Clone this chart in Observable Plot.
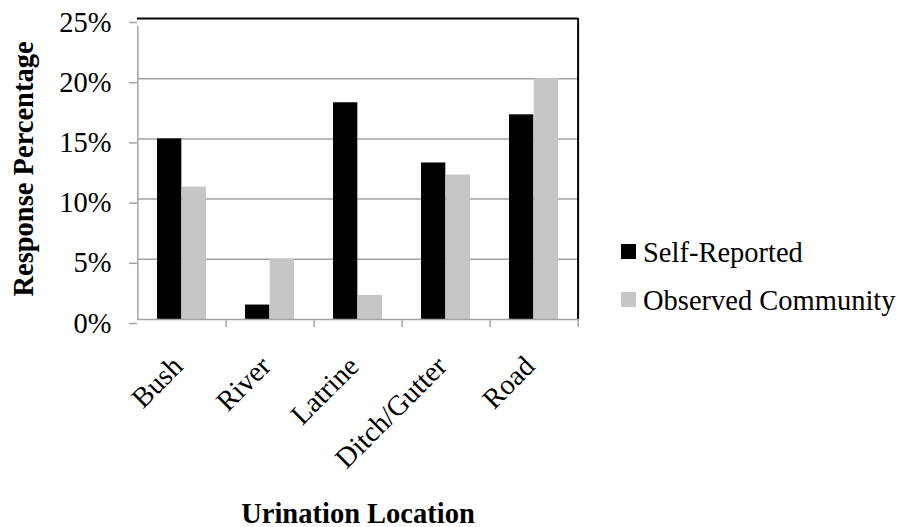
<!DOCTYPE html>
<html>
<head>
<meta charset="utf-8">
<script src="https://cdn.jsdelivr.net/npm/d3@7"></script>
<script src="https://cdn.jsdelivr.net/npm/@observablehq/plot@0.6"></script>
<style>
  body { margin: 0; background: #ffffff; }
  #chart { position: relative; width: 905px; height: 527px; font-family: "Liberation Serif", "Times New Roman", serif; }
  .swatch { position: absolute; width: 15px; height: 15px; }
  .legend-label { position: absolute; font-size: 28.5px; line-height: 28.5px; white-space: nowrap; color: #000; }
</style>
</head>
<body>
<div id="chart"></div>
<script>
// Urination location responses, as fractions
const categories = ["Bush", "River", "Latrine", "Ditch/Gutter", "Road"];
const series = ["Self-Reported", "Observed Community"];
const selfReported = [0.15, 0.012, 0.18, 0.13, 0.17];
const observedCommunity = [0.11, 0.05, 0.02, 0.12, 0.20];
const yTicks = [0, 0.05, 0.10, 0.15, 0.20, 0.25];
const seriesColors = ["#000000", "#c6c6c6"];

const rows = categories.flatMap((category, i) => [
  {category, series: series[0], value: selfReported[i]},
  {category, series: series[1], value: observedCommunity[i]}
]);

// Layout
const width = 905, height = 527;
const margin = {top: 18, right: 327, bottom: 208, left: 137};
const paddingInner = 0.44, paddingOuter = 0.22;
const step = (width - margin.left - margin.right) / categories.length; // band step (px)
const half = step * (1 - paddingInner) / 2;                            // one bar of the pair
const fontSize = 28.5;
const gridGray = "#a3a3a3";
const pct = d => `${Math.round(d * 100)}%`;

const plot = Plot.plot({
  width, height,
  marginTop: margin.top, marginRight: margin.right,
  marginBottom: margin.bottom, marginLeft: margin.left,
  style: {
    fontFamily: '"Liberation Serif", "Times New Roman", serif',
    fontSize: `${fontSize}px`,
    background: "#ffffff",
    color: "#000000",
    overflow: "visible"
  },
  x: {domain: categories, paddingInner, paddingOuter, axis: null},
  y: {domain: [0, 0.25], axis: null},
  marks: [
    // horizontal gridlines
    Plot.ruleY(yTicks.filter(t => t > 0 && t < 0.25), {stroke: gridGray, strokeWidth: 1.5}),
    // bars: self-reported on the left half, observed on the right half of each band
    Plot.barY(rows.filter(d => d.series === series[0]), {
      x: "category", y: "value", fill: seriesColors[0], insetRight: half
    }),
    Plot.barY(rows.filter(d => d.series === series[1]), {
      x: "category", y: "value", fill: seriesColors[1], insetLeft: half
    }),
    // plot border: black top and right edges
    Plot.ruleY([0.25], {stroke: "#000000", strokeWidth: 2}),
    Plot.ruleX([categories[categories.length - 1]], {dx: step / 2, stroke: "#000000", strokeWidth: 2}),
    // value axis line (grey) and category axis line
    Plot.ruleX([categories[0]], {dx: -step / 2, y1: 0, y2: 0.25, insetBottom: -8, stroke: gridGray, strokeWidth: 1.5}),
    Plot.ruleY([0], {stroke: gridGray, strokeWidth: 1.5}),
    // category boundary ticks
    Plot.ruleX(categories, {x: d => d, dx: step / 2, y1: 0, y2: 0, insetBottom: -8, stroke: gridGray, strokeWidth: 1.5}),
    // value axis
    Plot.axisY({
      ticks: yTicks, tickFormat: pct, tickSize: 8, tickPadding: 18,
      stroke: gridGray, strokeWidth: 1.5, fill: "#000000", dy: 4, label: null, fontSize
    }),
    // rotated category labels
    Plot.text(categories, {
      x: d => d, frameAnchor: "bottom", rotate: -45,
      textAnchor: "end", lineAnchor: "middle", dx: -4, dy: 42, fontSize, fill: "#000000"
    }),
    // axis titles
    Plot.text(["Response Percentage"], {
      frameAnchor: "left", rotate: -90, dx: -114, textAnchor: "middle",
      lineAnchor: "middle", fontWeight: "bold", fontSize, fill: "#000000"
    }),
    Plot.text(["Urination Location"], {
      frameAnchor: "bottom", dy: 194, textAnchor: "middle",
      lineAnchor: "middle", fontWeight: "bold", fontSize, fill: "#000000"
    })
  ]
});

const chart = document.getElementById("chart");
chart.appendChild(plot);

// legend
const legendTop = [244, 292];
series.forEach((name, i) => {
  const sw = document.createElement("div");
  sw.className = "swatch";
  sw.style.left = "621px";
  sw.style.top = `${legendTop[i]}px`;
  sw.style.background = seriesColors[i];
  chart.appendChild(sw);
  const label = document.createElement("div");
  label.className = "legend-label";
  label.style.left = "643px";
  label.style.top = `${legendTop[i] - 5}px`;
  label.textContent = name;
  chart.appendChild(label);
});
</script>
</body>
</html>
